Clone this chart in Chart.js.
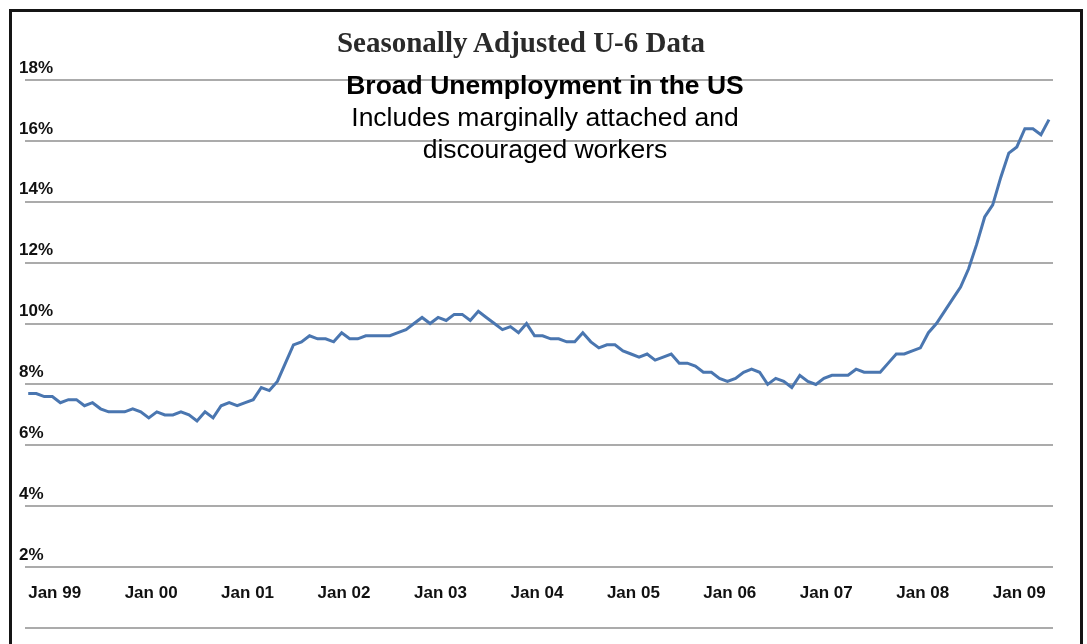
<!DOCTYPE html>
<html>
<head>
<meta charset="utf-8">
<script src="https://cdn.jsdelivr.net/npm/chart.js@4"></script>
<style>
  html, body { margin: 0; padding: 0; background: #ffffff; }
  #wrap { position: relative; width: 1087px; height: 644px; overflow: hidden; background: #ffffff; }
  #frame { position: absolute; left: 9px; top: 9px; width: 1068px; height: 660px; border: 3px solid #151515; box-sizing: content-box; }
  #chart { position: absolute; left: 0; top: 0; }
  .txt { position: absolute; white-space: nowrap; text-align: center; transform: translateX(-50%); }
  #title { left: 521px; top: 24px; font-family: "Liberation Serif", "DejaVu Serif", serif; font-weight: bold; font-size: 29px; line-height: 36px; color: #2a2a2a; }
  #sub { left: 545px; top: 69px; font-family: "Liberation Sans", Arial, sans-serif; font-size: 26.5px; line-height: 32px; color: #000; }
  #sub b { font-weight: bold; }
</style>
</head>
<body>
<div id="wrap">
  <canvas id="chart" width="1087" height="644"></canvas>
  <div id="frame"></div>
  <div id="title" class="txt">Seasonally Adjusted U-6 Data</div>
  <div id="sub" class="txt"><b>Broad Unemployment in the US</b><br>Includes marginally attached and<br>discouraged workers</div>
</div>
<script>
// Monthly U-6 rate (%), seasonally adjusted, Jan 1999 - Aug 2009
const values1999 = [7.7, 7.7, 7.6, 7.6, 7.4, 7.5, 7.5, 7.3, 7.4, 7.2, 7.1, 7.1];
const values2000 = [7.1, 7.2, 7.1, 6.9, 7.1, 7.0, 7.0, 7.1, 7.0, 6.8, 7.1, 6.9];
const values2001 = [7.3, 7.4, 7.3, 7.4, 7.5, 7.9, 7.8, 8.1, 8.7, 9.3, 9.4, 9.6];
const values2002 = [9.5, 9.5, 9.4, 9.7, 9.5, 9.5, 9.6, 9.6, 9.6, 9.6, 9.7, 9.8];
const values2003 = [10.0, 10.2, 10.0, 10.2, 10.1, 10.3, 10.3, 10.1, 10.4, 10.2, 10.0, 9.8];
const values2004 = [9.9, 9.7, 10.0, 9.6, 9.6, 9.5, 9.5, 9.4, 9.4, 9.7, 9.4, 9.2];
const values2005 = [9.3, 9.3, 9.1, 9.0, 8.9, 9.0, 8.8, 8.9, 9.0, 8.7, 8.7, 8.6];
const values2006 = [8.4, 8.4, 8.2, 8.1, 8.2, 8.4, 8.5, 8.4, 8.0, 8.2, 8.1, 7.9];
const values2007 = [8.3, 8.1, 8.0, 8.2, 8.3, 8.3, 8.3, 8.5, 8.4, 8.4, 8.4, 8.7];
const values2008 = [9.0, 9.0, 9.1, 9.2, 9.7, 10.0, 10.4, 10.8, 11.2, 11.8, 12.6, 13.5];
const values2009 = [13.9, 14.8, 15.6, 15.8, 16.4, 16.4, 16.2, 16.7];

const xTickLabels = ['Jan 99', 'Jan 00', 'Jan 01', 'Jan 02', 'Jan 03', 'Jan 04', 'Jan 05', 'Jan 06', 'Jan 07', 'Jan 08', 'Jan 09'];
const yTickValues = [0, 2, 4, 6, 8, 10, 12, 14, 16, 18];

const u6Values = [].concat(values1999, values2000, values2001, values2002, values2003,
  values2004, values2005, values2006, values2007, values2008, values2009);
const points = u6Values.map((v, i) => ({ x: i, y: v }));
const tickFont = { family: '"Liberation Sans", Arial, sans-serif', size: 17, weight: 'bold' };

new Chart(document.getElementById('chart'), {
  type: 'line',
  data: {
    datasets: [{
      label: 'U-6',
      data: points,
      borderColor: '#4a76b0',
      borderWidth: 3,
      pointRadius: 0,
      tension: 0,
      fill: false
    }]
  },
  options: {
    responsive: false,
    animation: false,
    devicePixelRatio: 1,
    layout: { padding: { left: 25, right: 34, top: 80, bottom: 16 } },
    plugins: { legend: { display: false }, title: { display: false }, tooltip: { enabled: false } },
    scales: {
      x: {
        type: 'linear',
        position: { y: 1.75 },
        min: -0.4,
        max: 127.5,
        grid: { display: false },
        border: { display: false },
        afterBuildTicks: (scale) => { scale.ticks = xTickLabels.map((_, i) => ({ value: i * 12 })); },
        ticks: {
          autoSkip: false,
          maxRotation: 0,
          minRotation: 0,
          align: 'start',
          padding: 0,
          color: '#111111',
          font: tickFont,
          callback: (v) => xTickLabels[Math.round(v / 12)]
        }
      },
      y: {
        type: 'linear',
        position: 'left',
        min: 0,
        max: 18,
        afterBuildTicks: (scale) => { scale.ticks = yTickValues.map(v => ({ value: v })); },
        grid: { color: '#ababab', lineWidth: 2, drawTicks: false },
        border: { display: false },
        ticks: {
          mirror: true,
          padding: -2,
          labelOffset: -12,
          color: '#111111',
          font: tickFont,
          callback: (v) => v === 0 ? '' : v + '%'
        }
      }
    }
  }
});
</script>
</body>
</html>
